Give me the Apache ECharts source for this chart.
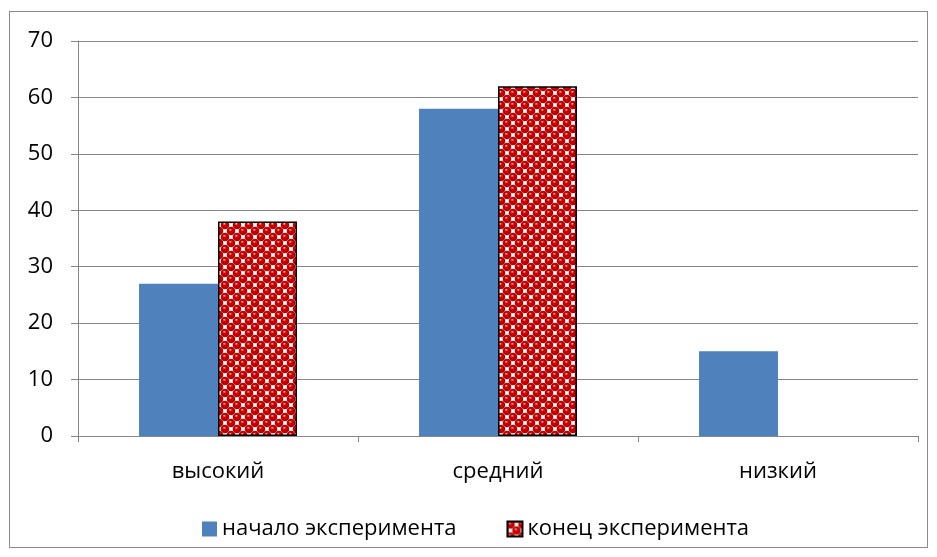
<!DOCTYPE html>
<html>
<head>
<meta charset="utf-8">
<script src="https://cdn.jsdelivr.net/npm/echarts@6/dist/echarts.min.js"></script>
<style>
  html, body { margin: 0; padding: 0; background: #fff; }
  #frame { position: absolute; left: 9px; top: 11px; width: 919px; height: 537px; border: 1px solid #8c8c8c; box-sizing: border-box; }
  #chart { position: absolute; left: 0; top: 0; width: 937px; height: 557px; }
</style>
</head>
<body>
<div id="frame"></div>
<div id="chart"></div>
<script>
const categories = ['высокий', 'средний', 'низкий'];
const seriesNames = ['начало эксперимента', 'конец эксперимента'];
const startValues = [27, 58, 15];
const endValues = [38, 62, 0];
const yTicks = [0, 10, 20, 30, 40, 50, 60, 70];

// Checkerboard of shaded red spheres for the second series fill
function sphereTile() {
  const cell = 6;
  const s = cell * 2;
  const c = document.createElement('canvas');
  c.width = s; c.height = s;
  const g = c.getContext('2d');
  g.fillStyle = '#ffffff';
  g.fillRect(0, 0, s, s);
  const centers = [];
  for (const dx of [-s, 0, s]) for (const dy of [-s, 0, s]) {
    centers.push([dx + cell / 2, dy + cell / 2]);
    centers.push([dx + cell * 1.5, dy + cell * 1.5]);
  }
  centers.forEach(([x, y]) => {
    const grad = g.createRadialGradient(x - 0.8, y - 1.4, 0.3, x, y, 4.4);
    grad.addColorStop(0, '#f6c0c0');
    grad.addColorStop(0.28, '#d50000');
    grad.addColorStop(1, '#b30000');
    g.fillStyle = grad;
    g.beginPath();
    g.arc(x, y, 4.3, 0, Math.PI * 2);
    g.fill();
  });
  return c;
}

const chart = echarts.init(document.getElementById('chart'), null, { renderer: 'canvas' });
const font = 'Open Sans, Noto Sans, sans-serif';

// Zero-height bars get no outline
const endData = endValues.map(v => (v === 0 ? { value: v, itemStyle: { borderWidth: 0 } } : v));

chart.setOption({
  animation: false,
  textStyle: { fontFamily: font },
  grid: { left: 78, right: 19, top: 41, bottom: 121, containLabel: false },
  legend: {
    top: 518,
    left: 202,
    padding: 0,
    itemWidth: 15,
    itemHeight: 15,
    itemGap: 50,
    textStyle: { fontSize: 22, color: '#000', fontFamily: font },
    data: [
      { name: seriesNames[0], icon: 'rect' },
      { name: seriesNames[1], icon: 'rect' }
    ]
  },
  xAxis: {
    type: 'category',
    data: categories,
    axisLine: { lineStyle: { color: '#868686', width: 1 } },
    axisTick: { show: true, length: 6, lineStyle: { color: '#868686' } },
    axisLabel: { fontSize: 22, color: '#000', margin: 25, fontFamily: font },
    splitLine: { show: false }
  },
  yAxis: {
    type: 'value',
    min: 0,
    max: 70,
    interval: 10,
    axisLine: { show: true, lineStyle: { color: '#868686', width: 1 } },
    axisTick: { show: true, length: 7, lineStyle: { color: '#868686' } },
    axisLabel: {
      fontSize: 22, color: '#000', margin: 25, fontFamily: font,
      formatter: v => (yTicks.indexOf(v) >= 0 ? String(v) : '')
    },
    splitLine: { show: true, lineStyle: { color: '#868686', width: 1 } }
  },
  series: [
    {
      name: seriesNames[0],
      type: 'bar',
      data: startValues,
      barGap: '0%',
      barCategoryGap: '43.6%',
      itemStyle: { color: '#4f81bd' }
    },
    {
      name: seriesNames[1],
      type: 'bar',
      data: endData,
      barGap: '0%',
      barCategoryGap: '43.6%',
      itemStyle: {
        color: { image: sphereTile(), repeat: 'repeat' },
        borderColor: '#000',
        borderWidth: 1.5
      }
    }
  ]
});
</script>
</body>
</html>
